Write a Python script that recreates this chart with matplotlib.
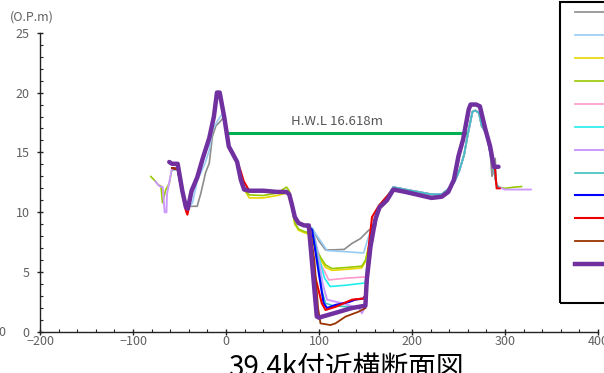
import matplotlib.pyplot as plt
from matplotlib.lines import Line2D
from matplotlib.patches import Rectangle
from matplotlib.ticker import MultipleLocator

plt.rcParams['font.family'] = ['Noto Sans CJK JP', 'DejaVu Sans']

# --- shared pieces of the cross-section (distance m, elevation O.P.m) ---
lev_x = [-58, -52, -47, -43, -41, -37, -31, -25, -18, -13, -9.7, -6.8, -2, 3, 6.5, 12, 16, 19.5]
lev_y = [13.7, 13.6, 11.8, 10.4, 10.3, 11.8, 12.9, 14.5, 16.2, 18.0, 20.0, 20.0, 18.0, 15.5, 15.0, 14.2, 12.7, 11.9]

old_lev_x = [-58, -52, -45, -40, -36, -31, -27, -22, -18, -14.7, -11, -6, -3, 0, 3, 6.5, 12, 16, 19.5]
gray_lev_y = [13.5, 13.6, 11.0, 10.5, 10.5, 10.5, 11.6, 13.3, 14.1, 16.3, 17.2, 17.6, 17.9, 17.0, 15.5, 15.0, 14.2, 12.7, 11.9]
lblue_lev_y = [13.5, 13.6, 11.0, 10.4, 10.8, 12.6, 13.3, 14.2, 15.2, 16.8, 17.4, 18.0, 18.3, 17.2, 15.5, 15.0, 14.2, 12.7, 11.9]

plain_x = [25, 40, 55, 65, 68, 71, 74, 78, 84, 88]
plain_y = [11.8, 11.8, 11.7, 11.7, 11.5, 10.6, 9.6, 9.1, 8.9, 8.9]
yellow_plain_y = [11.2, 11.2, 11.4, 11.6, 11.5, 10.3, 9.0, 8.5, 8.3, 8.2]
ygreen_plain_y = [11.45, 11.4, 11.6, 12.1, 11.8, 10.5, 9.1, 8.6, 8.4, 8.3]

right_x = [165, 173, 180, 193, 207, 221, 232, 239, 245, 250, 255, 261, 263, 269, 273, 279, 284, 288, 293]
right_y = [10.4, 11.0, 11.9, 11.7, 11.45, 11.2, 11.3, 11.7, 12.7, 14.7, 16.1, 18.6, 19.0, 19.0, 18.85, 16.9, 15.5, 13.8, 13.8]

old_right_x = [165, 173, 180, 193, 207, 221, 232, 240, 246, 251, 256, 260, 265, 268, 272, 275, 280, 284, 288, 291, 293]
old_right_y = [10.6, 11.3, 12.1, 11.9, 11.7, 11.5, 11.5, 12.0, 12.6, 13.5, 14.8, 16.5, 18.4, 18.5, 18.3, 17.2, 16.6, 15.0, 13.5, 12.3, 12.1]

# --- channel bottoms per survey ---
gray_ch_x = [93, 100, 107, 115, 127, 135.5, 144.5, 153.4, 160.6]
gray_ch_y = [8.6, 7.6, 6.86, 6.86, 6.9, 7.4, 7.8, 8.5, 8.8]
lblue_ch_x = [93, 100, 108.7, 130, 148, 153.4, 160.6]
lblue_ch_y = [8.6, 7.8, 6.8, 6.7, 6.6, 8.0, 9.4]
yellow_ch_x = [92, 96, 102, 107, 114, 132, 146, 150, 153.4, 157, 161]
yellow_ch_y = [7.8, 7.0, 6.0, 5.4, 5.15, 5.25, 5.35, 5.9, 7.1, 8.5, 9.4]
ygreen_ch_y = [8.0, 7.1, 6.2, 5.6, 5.3, 5.4, 5.5, 6.0, 7.1, 8.6, 9.5]
pink_ch_x = [93, 99.8, 107, 110.5, 130, 150, 151.6, 155, 160]
pink_ch_y = [8.6, 6.0, 4.9, 4.35, 4.5, 4.6, 5.7, 7.5, 9.3]
cyan_ch_x = [93, 99, 106, 112, 128, 150, 152, 155, 160]
cyan_ch_y = [8.6, 6.5, 4.5, 3.8, 3.9, 4.1, 6.0, 7.8, 9.3]
lav_ch_x = [93, 98, 104, 108.7, 124.8, 142.7, 146.2, 150, 152, 155, 160]
lav_ch_y = [8.6, 7.0, 4.0, 2.7, 2.4, 2.0, 1.56, 2.2, 4.5, 7.0, 9.2]
teal_ch_x = [93, 97, 103, 107, 115, 132, 143, 150, 152, 156, 160]
teal_ch_y = [8.6, 7.0, 3.5, 2.4, 2.2, 2.1, 2.0, 2.4, 5.0, 7.5, 9.3]
blue_ch_x = [92.6, 99.8, 105, 108.7, 117.7, 132, 139, 148, 151, 154, 158, 162]
blue_ch_y = [8.5, 4.9, 2.4, 2.0, 2.26, 2.5, 2.7, 2.8, 3.2, 6.5, 8.8, 9.8]
red_ch_x = [89, 96, 103, 107, 117.7, 135.5, 148, 150, 153.4, 157, 164, 175, 180]
red_ch_y = [8.8, 4.6, 2.4, 1.84, 2.1, 2.7, 2.8, 3.1, 7.1, 9.6, 10.5, 11.5, 11.9]
brown_ch_x = [90, 95, 99, 101.6, 112.3, 117.7, 128.4, 142.7, 150, 152, 156, 160]
brown_ch_y = [8.8, 6.0, 2.0, 0.72, 0.58, 0.72, 1.28, 1.7, 2.0, 4.3, 7.1, 9.4]
purple_ch_x = [89, 97.6, 99.8, 117.7, 135.2, 149.9, 151.3, 155.3, 160.6]
purple_ch_y = [8.9, 1.3, 1.2, 1.6, 2.0, 2.2, 4.3, 7.1, 9.4]

# --- odd ends of individual surveys ---
ygreen_start_x = [-81, -76, -73, -70, -68.3, -64.7, -61]
ygreen_start_y = [13.0, 12.6, 12.3, 12.2, 10.8, 11.9, 12.4]
ygreen_end_x = [300, 310, 318]
ygreen_end_y = [12.0, 12.1, 12.15]
lav_start_x = [-76, -72, -68, -66, -64, -63.5, -61]
lav_start_y = [12.6, 12.2, 12.1, 10.0, 10.0, 11.5, 12.5]
lav_end_x = [300, 315, 328]
lav_end_y = [11.9, 11.9, 11.9]
gray_end_x = [286, 289.5, 290.5, 293]
gray_end_y = [13.0, 14.5, 12.4, 12.1]
purple_start_x = [-61, -58, -52]
purple_start_y = [14.2, 14.05, 14.05]
red_lev_x = [-58, -52, -47, -43, -41.5, -37, -31, -25, -18, -13, -9.7, -6.8, -2, 3, 6.5, 12, 16, 19, 22]
red_lev_y = [13.7, 13.6, 11.6, 10.1, 9.8, 11.6, 12.9, 14.5, 16.2, 18.0, 20.0, 20.0, 18.0, 15.5, 15.0, 14.2, 13.4, 12.6, 12.2]
red_right_x = [193, 207, 221, 232, 239, 245, 250, 255, 261, 263, 269, 273, 279, 284, 289.4, 291, 294.6]
red_right_y = [11.7, 11.45, 11.2, 11.3, 11.7, 12.7, 14.7, 16.1, 18.6, 19.0, 19.0, 18.85, 16.9, 15.5, 13.5, 12.0, 12.0]

hwl_x = [0, 257]
hwl_level = 16.618

colors = ['#8C8C8C', '#99CCF5', '#E6D800', '#99C800', '#FF99CC', '#22EEEE',
          '#CC99FF', '#40C0C0', '#0000FF', '#EE0000', '#993300', '#7030A0']
widths = [1.2, 1.2, 1.2, 1.2, 1.2, 1.2, 1.4, 1.2, 1.5, 1.5, 1.3, 3.2]

series = [
    (old_lev_x + plain_x + gray_ch_x + old_right_x[:-3] + gray_end_x,
     gray_lev_y + plain_y + gray_ch_y + old_right_y[:-3] + gray_end_y),
    (old_lev_x + plain_x + lblue_ch_x + old_right_x,
     lblue_lev_y + plain_y + lblue_ch_y + old_right_y),
    (lev_x + plain_x + yellow_ch_x + old_right_x,
     lev_y + yellow_plain_y + yellow_ch_y + old_right_y),
    (ygreen_start_x + lev_x + plain_x + yellow_ch_x + old_right_x + ygreen_end_x,
     ygreen_start_y + lev_y + ygreen_plain_y + ygreen_ch_y + old_right_y + ygreen_end_y),
    (lev_x + plain_x + pink_ch_x + old_right_x,
     lev_y + plain_y + pink_ch_y + old_right_y),
    (lev_x + plain_x + cyan_ch_x + old_right_x,
     lev_y + plain_y + cyan_ch_y + old_right_y),
    (lav_start_x + lev_x + plain_x + lav_ch_x + old_right_x + lav_end_x,
     lav_start_y + lev_y + plain_y + lav_ch_y + old_right_y + lav_end_y),
    (lev_x + plain_x + teal_ch_x + old_right_x,
     lev_y + plain_y + teal_ch_y + old_right_y),
    (lev_x + plain_x + blue_ch_x + right_x,
     lev_y + plain_y + blue_ch_y + right_y),
    (red_lev_x + plain_x + red_ch_x + red_right_x,
     red_lev_y + plain_y + red_ch_y + red_right_y),
    (lev_x + plain_x + brown_ch_x + right_x,
     lev_y + plain_y + brown_ch_y + right_y),
    (purple_start_x + lev_x[2:] + plain_x + purple_ch_x + right_x,
     purple_start_y + lev_y[2:] + plain_y + purple_ch_y + right_y),
]

fig = plt.figure(figsize=(6.04, 3.73), dpi=100)
ax = fig.add_axes([40 / 604, 1 - 332 / 373, 558 / 604, 299.3 / 373])

handles = []
for (xs, ys), c, lw in zip(series, colors, widths):
    ax.plot(xs, ys, color=c, lw=lw, solid_joinstyle='round', solid_capstyle='round')
    handles.append(Line2D([], [], color=c, lw=lw))

ax.plot(hwl_x, [hwl_level, hwl_level], color='#00B050', lw=2.2, zorder=1)
ax.text(119, 17.6, 'H.W.L 16.618m', ha='center', va='center', fontsize=9.5, color='#555555')

ax.set_xlim(-200, 400)
ax.set_ylim(0, 25)
ax.xaxis.set_major_locator(MultipleLocator(100))
ax.xaxis.set_minor_locator(MultipleLocator(20))
ax.yaxis.set_major_locator(MultipleLocator(5))
ax.yaxis.set_minor_locator(MultipleLocator(1))
ax.tick_params(which='major', direction='inout', length=5, width=1, color='#222222',
               labelsize=9, labelcolor='#606060')
ax.tick_params(axis='y', which='major', pad=5)
ax.tick_params(axis='x', which='major', pad=0)
ax.tick_params(which='minor', direction='in', length=2.5, width=0.8, color='#222222')
for side in ['top', 'right']:
    ax.spines[side].set_visible(False)
for side in ['left', 'bottom']:
    ax.spines[side].set_color('#222222')
    ax.spines[side].set_linewidth(1)

fig.text(32 / 604, 1 - 17 / 373, '(O.P.m)', ha='center', va='center', fontsize=9, color='#606060')
fig.text(-1.5 / 604, 1 - 332 / 373, '0', ha='left', va='center', fontsize=9, color='#606060')
fig.text(346 / 604, -0.008, '39.4k付近横断面図', ha='center', va='baseline', fontsize=20, color='black')

# legend frame runs off the right edge of the picture
fig.patches.append(Rectangle((560 / 604, 1 - 303 / 373), 0.2, 301 / 373, transform=fig.transFigure,
                             fill=False, edgecolor='black', lw=1.5))
fig.legend(handles, [''] * len(handles), loc='upper left', frameon=False,
           bbox_to_anchor=(575 / 604, 1 - 7.5 / 373), bbox_transform=fig.transFigure,
           borderpad=0, borderaxespad=0, handlelength=3, handleheight=1.3,
           labelspacing=0.97, prop={'family': 'DejaVu Sans', 'size': 8})

fig.savefig('out.png', dpi=100)
